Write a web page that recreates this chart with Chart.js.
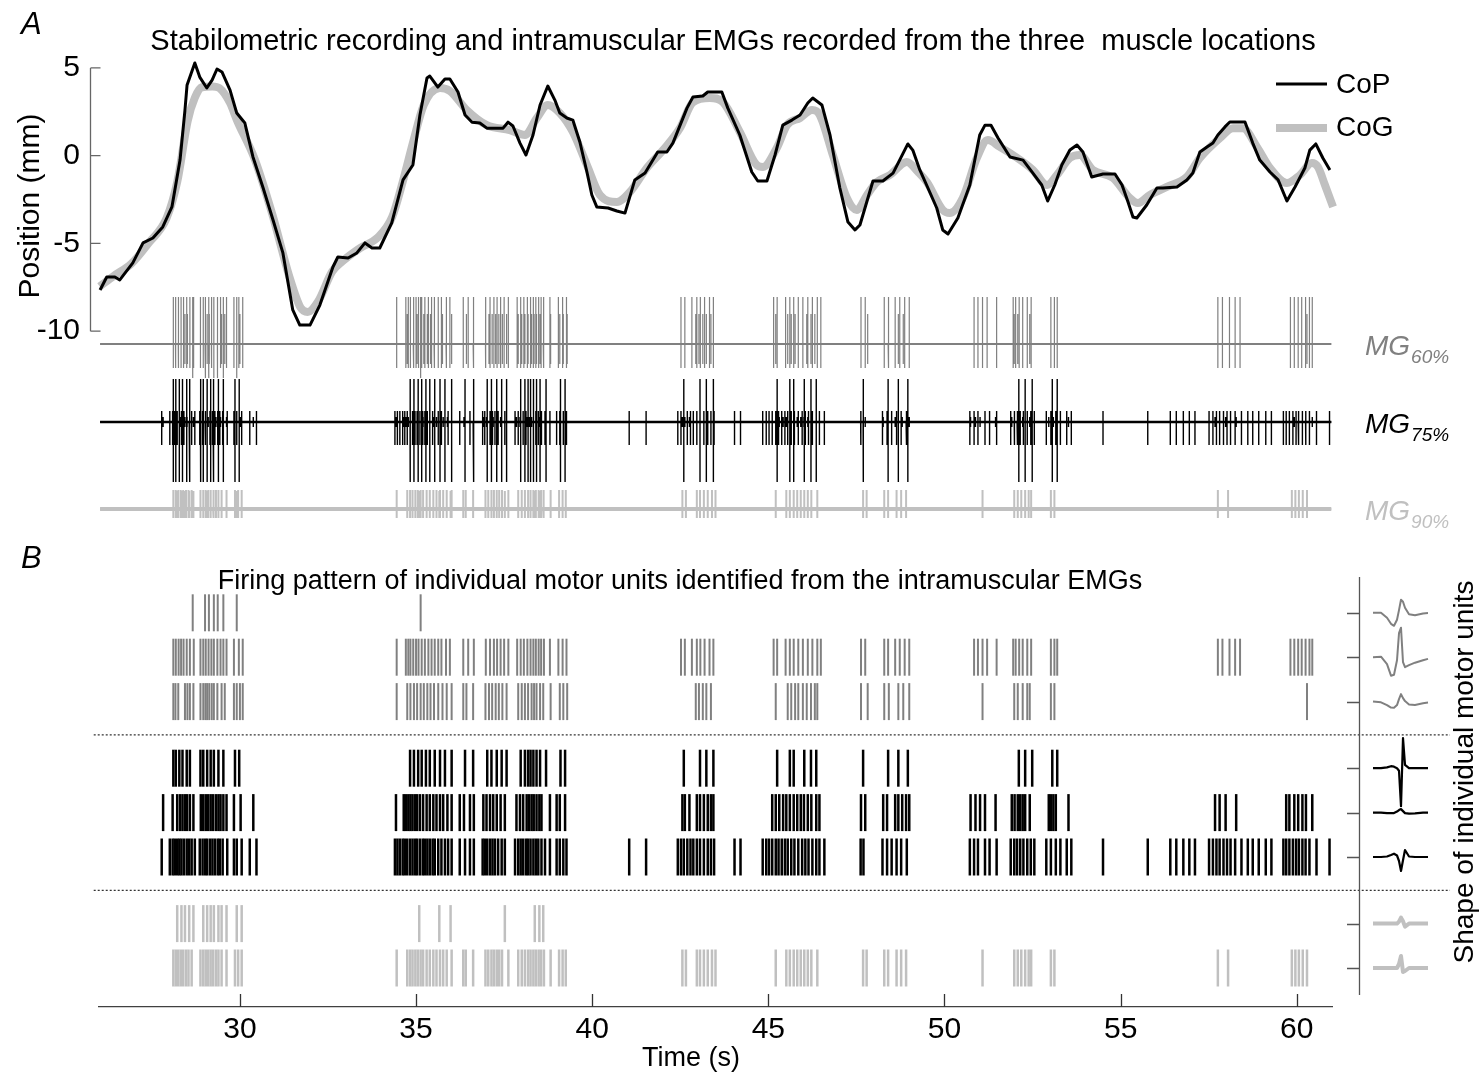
<!DOCTYPE html>
<html>
<head>
<meta charset="utf-8">
<title>Stabilometric recording and motor unit firing</title>
<script src="https://cdn.jsdelivr.net/npm/chart.js@4.4.1/dist/chart.umd.min.js"></script>
<style>
  html, body { margin: 0; padding: 0; background: #fff; }
</style>
</head>
<body>
<canvas id="fig" width="1484" height="1077"></canvas>
<script>
// ---- values ----
const timeTicks = [30, 35, 40, 45, 50, 55, 60];
const posTicks = [-10, -5, 0, 5];

// centre of pressure (mm)
const copTime = [26.03, 26.22, 26.45, 26.59, 26.96, 27.25, 27.53, 27.81, 28.07, 28.30,
  28.44, 28.50, 28.72, 28.86, 29.06, 29.21, 29.35, 29.49, 29.72, 29.91,
  30.14, 30.37, 30.65, 30.94, 31.22, 31.50, 31.70, 31.99, 32.27, 32.64,
  32.78, 33.07, 33.32, 33.55, 33.75, 33.97, 34.31, 34.63, 34.91, 35.11,
  35.31, 35.39, 35.62, 35.82, 35.96, 36.19, 36.39, 36.59, 36.81, 37.01,
  37.47, 37.61, 37.75, 37.95, 38.12, 38.32, 38.52, 38.74, 38.94, 39.08,
  39.28, 39.45, 39.65, 39.85, 39.99, 40.13, 40.45, 40.70, 40.93, 41.21,
  41.50, 41.86, 42.12, 42.29, 42.69, 42.86, 43.14, 43.28, 43.68, 43.85,
  44.19, 44.53, 44.70, 44.96, 45.19, 45.41, 45.67, 45.90, 46.12, 46.26,
  46.52, 46.75, 47.03, 47.26, 47.46, 47.60, 47.97, 48.25, 48.54, 48.96,
  49.10, 49.30, 49.53, 49.78, 49.95, 50.10, 50.38, 50.72, 51.00, 51.15,
  51.32, 51.52, 51.86, 52.23, 52.51, 52.76, 52.93, 53.13, 53.33, 53.56,
  53.76, 53.93, 54.18, 54.50, 54.84, 55.04, 55.21, 55.35, 55.46, 55.74,
  56.03, 56.20, 56.60, 56.88, 57.05, 57.25, 57.45, 57.62, 57.76, 57.96,
  58.10, 58.53, 58.75, 58.95, 59.24, 59.47, 59.72, 59.95, 60.23, 60.37,
  60.54, 60.74, 60.94];
const copPos = [-7.65, -6.91, -6.91, -7.08, -6.11, -4.97, -4.69, -4.06, -2.92, -0.25,
  2.6, 4.03, 5.28, 4.48, 3.86, 4.31, 4.94, 4.77, 3.74, 2.43,
  1.86, -0.07, -1.78, -3.66, -5.54, -8.79, -9.65, -9.65, -8.51, -6.34,
  -5.77, -5.83, -5.54, -4.97, -5.26, -5.26, -3.83, -1.38, -0.53, 2.32,
  4.43, 4.54, 3.91, 4.37, 4.37, 3.63, 2.32, 1.91, 1.86, 1.57,
  1.57, 1.91, 1.69, 0.72, 0.04, 1.18, 2.89, 3.97, 3.17, 2.43,
  2.15, 2.03, 0.78, -0.93, -2.24, -2.92, -2.98, -3.15, -3.27, -1.38,
  -0.99, 0.21, 0.21, 0.72, 2.71, 3.34, 3.4, 3.63, 3.63, 2.71,
  1.18, -0.93, -1.44, -1.44, 0.04, 1.74, 2.03, 2.32, 3.0, 3.29,
  2.89, 1.18, -1.84, -3.78, -4.23, -3.95, -1.44, -1.44, -0.99, 0.67,
  0.32, -0.81, -1.84, -2.98, -4.23, -4.46, -3.55, -1.67, 1.18, 1.74,
  1.74, 1.01, -0.07, -0.25, -0.99, -1.67, -2.58, -1.67, -0.53, 0.32,
  0.61, 0.21, -1.21, -1.04, -1.04, -1.67, -2.64, -3.49, -3.55, -2.81,
  -1.84, -1.84, -1.78, -1.38, -0.99, 0.21, 0.5, 0.72, 1.18, 1.64,
  1.92, 1.92, 0.72, -0.25, -0.93, -1.38, -2.58, -1.78, -0.7, 0.32,
  0.67, -0.13, -0.81];

// centre of gravity (mm)
const cogTime = [26.02, 26.42, 26.92, 27.42, 27.92, 28.22, 28.52, 28.72, 28.92, 29.22,
  29.42, 29.72, 29.92, 30.42, 30.92, 31.42, 31.72, 31.92, 32.22, 32.62,
  32.92, 33.42, 33.92, 34.32, 34.62, 34.92, 35.22, 35.68, 35.96, 36.44,
  37.01, 37.66, 38.09, 38.43, 38.74, 39.08, 39.45, 39.85, 40.22, 40.70,
  41.07, 41.55, 42.01, 42.49, 42.86, 43.34, 43.71, 44.19, 44.67, 44.85,
  45.24, 45.53, 45.90, 46.24, 46.46, 46.83, 47.23, 47.51, 47.80, 48.08,
  48.45, 48.93, 49.25, 49.50, 49.95, 50.15, 50.52, 50.92, 51.23, 51.57,
  51.94, 52.51, 52.91, 53.19, 53.56, 53.84, 54.21, 54.78, 55.26, 55.49,
  55.83, 56.31, 56.88, 57.25, 57.82, 58.19, 58.47, 58.87, 59.24, 59.72,
  60.09, 60.43, 60.60, 60.80, 61.03];
const cogPos = [-7.45, -6.85, -6.15, -4.95, -3.55, -1.5, 2.0, 3.3, 3.9, 3.95,
  3.85, 3.0, 2.0, -0.2, -3.35, -7.0, -8.65, -8.9, -8.3, -6.6,
  -6.0, -5.25, -4.65, -3.5, -1.5, 0.8, 2.9, 3.86, 3.69, 2.6,
  1.74, 1.46, 1.18, 2.15, 2.89, 2.43, 1.35, -0.53, -2.24, -2.64,
  -2.07, -0.7, 0.32, 1.57, 3.05, 3.29, 3.05, 1.35, -0.53, -0.64,
  0.44, 1.74, 2.15, 2.6, 2.32, 0.04, -2.41, -3.09, -2.24, -1.5,
  -1.1, -0.36, -0.93, -1.5, -3.09, -3.27, -2.41, -0.13, 0.89, 0.5,
  0.04, -0.81, -1.67, -1.1, -0.13, 0.04, -0.81, -1.27, -2.41, -2.7,
  -2.24, -1.78, -1.21, -0.13, 1.01, 1.57, 1.57, 0.5, -0.7, -1.56,
  -1.1, -0.42, -0.64, -1.67, -2.92];

// firing times (s) of the 8 motor units, top row first
const mu1Times = [28.66, 29.01, 29.12, 29.26, 29.37, 29.53, 29.91, 35.13];
const mu2Times = [28.11, 28.18, 28.26, 28.33, 28.40, 28.49, 28.58, 28.69, 28.88, 28.96, 29.03, 29.11, 29.19, 29.26, 29.36, 29.45, 29.53, 29.62, 29.83, 29.97, 30.08,
  34.45, 34.71, 34.78, 34.84, 34.92, 35.00, 35.07, 35.16, 35.25, 35.35, 35.44, 35.53, 35.63, 35.72, 35.85, 35.96, 36.34, 36.48, 36.64, 36.98, 37.10, 37.21, 37.30, 37.40, 37.50, 37.62,
  37.87, 37.97, 38.06, 38.16, 38.25, 38.33, 38.40, 38.48, 38.55, 38.63, 38.80, 39.04, 39.16, 39.27,
  42.52, 42.63, 42.83, 42.97, 43.07, 43.19, 43.33, 43.44, 45.15, 45.25, 45.49, 45.61, 45.72, 45.85, 45.98, 46.12, 46.25, 46.39, 46.49, 47.63, 47.75,
  48.29, 48.40, 48.60, 48.73, 48.87, 49.00, 50.84, 50.95, 51.08, 51.21, 51.48, 51.95, 52.02, 52.12, 52.22, 52.35, 52.46, 53.02, 53.12, 53.20,
  57.76, 57.89, 58.09, 58.25, 58.39, 59.82, 59.93, 60.04, 60.14, 60.25, 60.36, 60.44];
const mu3Times = [28.11, 28.17, 28.25, 28.44, 28.51, 28.58, 28.68, 28.88, 28.96, 29.02, 29.07, 29.13, 29.20, 29.26, 29.36, 29.48, 29.57, 29.83, 29.91, 30.00, 30.08,
  34.45, 34.75, 34.84, 34.94, 35.03, 35.13, 35.22, 35.32, 35.41, 35.51, 35.63, 35.75, 35.87, 36.01, 36.34, 36.43, 36.62, 36.97, 37.07, 37.16, 37.26, 37.35, 37.45, 37.57,
  37.90, 38.00, 38.09, 38.18, 38.28, 38.35, 38.42, 38.52, 38.61, 38.82, 39.08, 39.18, 39.29,
  42.94, 43.03, 43.14, 43.24, 43.37, 45.21, 45.55, 45.65, 45.76, 45.85, 45.98, 46.09, 46.21, 46.32, 46.39, 47.63, 47.82,
  48.29, 48.42, 48.69, 48.83, 49.00, 51.08, 51.98, 52.08, 52.22, 52.35, 52.42, 53.02, 53.12, 60.29];
const mu4Times = [28.11, 28.18, 28.28, 28.37, 28.49, 28.58, 28.88, 28.96, 29.07, 29.17, 29.26, 29.39, 29.53, 29.86, 29.98,
  34.83, 34.94, 35.06, 35.16, 35.28, 35.39, 35.53, 35.68, 35.82, 36.01, 36.39, 36.62, 37.02, 37.14, 37.29, 37.43, 37.57,
  37.97, 38.09, 38.18, 38.25, 38.33, 38.42, 38.52, 38.69, 39.10, 39.23,
  42.60, 43.06, 43.24, 43.44, 45.25, 45.61, 45.72, 46.02, 46.21, 46.36, 47.69, 48.40, 48.69, 48.96, 52.11, 52.29, 52.49, 53.06, 53.20];
const mu5Times = [27.82, 28.09, 28.22, 28.30, 28.37, 28.44, 28.50, 28.58, 28.68, 28.89, 28.96, 29.03, 29.10, 29.17, 29.24, 29.32, 29.39, 29.45, 29.53, 29.62, 29.83, 30.02, 30.38,
  34.43, 34.65, 34.71, 34.78, 34.84, 34.90, 34.97, 35.03, 35.11, 35.20, 35.30, 35.39, 35.49, 35.58, 35.68, 35.77, 35.89, 36.01, 36.24, 36.36, 36.53, 36.64,
  36.91, 37.00, 37.10, 37.19, 37.29, 37.40, 37.52, 37.85, 37.95, 38.04, 38.14, 38.21, 38.28, 38.34, 38.42, 38.50, 38.56, 38.80, 38.99, 39.08, 39.23,
  42.56, 42.63, 42.76, 42.97, 43.06, 43.17, 43.28, 43.37, 43.44, 45.11, 45.21, 45.31, 45.42, 45.51, 45.61, 45.72, 45.82, 45.92, 46.01, 46.12, 46.22, 46.36, 46.45,
  47.63, 47.75, 48.26, 48.37, 48.60, 48.69, 48.80, 48.91, 49.00, 50.74, 50.88, 51.01, 51.15, 51.45, 51.91, 51.99, 52.08, 52.15, 52.22, 52.29, 52.42,
  52.96, 53.02, 53.09, 53.16, 53.52, 57.68, 57.81, 57.98, 58.28, 59.70, 59.79, 59.93, 60.04, 60.16, 60.26, 60.44];
const mu6Times = [27.78, 28.01, 28.09, 28.15, 28.22, 28.28, 28.34, 28.41, 28.49, 28.56, 28.63, 28.72, 28.86, 28.94, 29.01, 29.07, 29.15, 29.22, 29.29, 29.37, 29.43, 29.51, 29.64, 29.83, 29.91, 30.05, 30.28, 30.47,
  34.40, 34.47, 34.54, 34.62, 34.68, 34.75, 34.83, 34.90, 34.97, 35.03, 35.11, 35.19, 35.25, 35.32, 35.39, 35.47, 35.53, 35.63, 35.72, 35.82, 35.91, 36.01,
  36.24, 36.39, 36.53, 36.64, 36.89, 36.95, 37.02, 37.10, 37.17, 37.24, 37.33, 37.43, 37.52, 37.81, 37.90, 37.97, 38.04, 38.12, 38.18, 38.25, 38.33, 38.40, 38.47, 38.56, 38.66, 38.80,
  38.99, 39.08, 39.18, 39.27, 41.05, 41.53, 42.43, 42.52, 42.60, 42.70, 42.79, 42.87, 42.97, 43.06, 43.17, 43.28, 43.37, 43.46, 44.04, 44.21,
  44.84, 44.94, 45.02, 45.11, 45.21, 45.29, 45.38, 45.47, 45.55, 45.65, 45.74, 45.85, 45.96, 46.05, 46.14, 46.25, 46.36, 46.45, 46.59, 47.62, 47.70,
  48.24, 48.37, 48.50, 48.64, 48.77, 48.93, 50.72, 50.84, 50.95, 51.15, 51.28, 51.48, 51.88, 51.98, 52.06, 52.15, 52.24, 52.35, 52.45, 52.55,
  52.89, 53.02, 53.16, 53.29, 53.47, 53.60, 54.50, 55.77, 56.41, 56.58, 56.78, 56.95, 57.11, 57.51, 57.62, 57.72, 57.81, 57.92, 58.02, 58.12, 58.25,
  58.43, 58.61, 58.75, 58.92, 59.12, 59.28, 59.62, 59.70, 59.79, 59.89, 59.98, 60.06, 60.16, 60.25, 60.36, 60.56, 60.93];
const mu7Times = [28.22, 28.34, 28.44, 28.56, 28.68, 28.96, 29.07, 29.17, 29.26, 29.39, 29.48, 29.62, 29.91, 30.05, 35.09, 35.66, 35.98, 37.52, 38.37, 38.50, 38.61];
const mu8Times = [28.11, 28.18, 28.25, 28.32, 28.39, 28.47, 28.54, 28.63, 28.88, 28.96, 29.03, 29.10, 29.17, 29.24, 29.32, 29.39, 29.48, 29.62, 29.86, 29.95, 30.05,
  34.45, 34.75, 34.83, 34.90, 34.98, 35.05, 35.13, 35.20, 35.30, 35.39, 35.49, 35.58, 35.68, 35.77, 35.87, 36.01, 36.34, 36.41, 36.62,
  36.97, 37.05, 37.14, 37.21, 37.29, 37.36, 37.44, 37.62, 37.90, 38.00, 38.09, 38.18, 38.25, 38.33, 38.40, 38.48, 38.55, 38.63, 38.82, 39.06, 39.16, 39.25,
  42.56, 42.66, 42.97, 43.06, 43.17, 43.28, 43.40, 43.50, 45.21, 45.51, 45.61, 45.72, 45.82, 45.92, 46.02, 46.12, 46.22, 46.39, 47.69, 47.79,
  48.29, 48.40, 48.64, 48.77, 48.91, 51.08, 51.98, 52.08, 52.18, 52.29, 52.39, 52.46, 53.02, 53.12, 57.76, 58.05, 59.86, 59.96, 60.06, 60.17, 60.29];

// raster row level of each unit, and the two group separators
const unitRows = [8, 7, 6, 4.5, 3.5, 2.5, 1, 0];
const groupBreaks = [5.25, 1.75];

// EMG channels: recording span (s) and spike peaks [up, down] of each unit (mV)
const emgSpan = [26.03, 60.98];
const mg60Peaks = [[0.94, -0.68], [0.94, -0.48], [0.6, -0.4]];
const mg75Peaks = [[0.86, -1.2], [0.1, -0.1], [0.22, -0.46]];
const mg90Peaks = [[0.36, -0.18], [0.38, -0.18]];

// action potential shapes (time in ms, amplitude in mV)
const shapeMs = [0, 1.6, 2.8, 3.6, 4.2, 4.8, 5.2, 5.6, 6.0, 6.4, 7.2, 8.4, 10, 11];
const mu1Shape = [0, 0, -0.5, -1.1, -1.3, -0.7, 0.27, 1.3, 1.1, 0.5, -0.15, -0.25, -0.07, -0.03];
const mu2Shape = [0, 0.05, -0.7, -1.85, -1.75, -0.3, 2.4, 2.95, -0.5, -1.0, -0.8, -0.55, -0.3, -0.17];
const mu3Shape = [0, -0.07, -0.35, -0.6, -0.62, -0.35, 0.25, 0.75, 0.35, 0.05, -0.28, -0.33, -0.17, -0.1];
const mu4Shape = [0, 0, 0.08, 0.2, 0.15, 0, -0.25, -3.8, 3.0, 0.33, 0, 0, 0, 0];
const mu5Shape = [0, 0, -0.05, -0.05, -0.05, 0.1, 0.25, 0.35, 0.15, -0.05, -0.1, -0.07, 0, 0];
const mu6Shape = [0, 0, 0.05, 0.2, 0.33, 0.15, -0.4, -1.4, -0.33, 0.7, 0.05, 0, 0, 0];
const mu7Shape = [0, 0, 0, 0, 0, 0, 0.2, 0.6, 0.23, -0.3, 0, 0, 0, 0];
const mu8Shape = [0, 0, 0, 0, 0, 0, 0.4, 1.2, -0.4, -0.3, 0, 0, 0, 0];

// ---- layout / style ----
const FONT = "'Liberation Sans', Arial, Helvetica, sans-serif";
const PLOT = { left: 99, right: 1332, top: 30, bottom: 1007 };
const GRAY = '#808080', LIGHT = '#c0c0c0';
const unitColors = [GRAY, GRAY, GRAY, '#000', '#000', '#000', LIGHT, LIGHT];
const unitWidths = [2, 2, 2, 2.5, 2.5, 2.5, 2.5, 2.5];
const shapeWidths = [2, 2, 2, 2.2, 2.2, 2.2, 4, 4];
const RASTER_ZERO = 968, RASTER_STEP = 44.4;
const SHAPE_LEFT = 1373, SHAPE_PX_MS = 5, SHAPE_PX_MV = 10;

// where 0 of each hidden y scale sits (px) and how many px one unit takes
const bandSpecs = {
  yPos: [155.7, 17.55],
  yRaster: [RASTER_ZERO, RASTER_STEP],
  yMG60: [344, 50],
  yMG75: [422, 50],
  yMG90: [509, 50]
};
unitRows.forEach((row, i) => { bandSpecs['yShape' + i] = [RASTER_ZERO - RASTER_STEP * row, SHAPE_PX_MV]; });

function band(zeroPx, pxPerUnit, area) {
  return { min: -(area.bottom - zeroPx) / pxPerUnit, max: (zeroPx - area.top) / pxPerUnit };
}

function zip(xs, ys) {
  return xs.map((x, i) => ({ x: x, y: ys[i] }));
}

// EMG trace: each firing drawn as a spike of that unit's amplitude
function emgTrace(unitTimes, peaks) {
  const spikes = [];
  unitTimes.forEach((times, i) => times.forEach(t => spikes.push([t, peaks[i][0], peaks[i][1]])));
  spikes.sort((a, b) => a[0] - b[0]);
  const pts = [{ x: emgSpan[0], y: 0 }];
  spikes.forEach(s => {
    pts.push({ x: s[0], y: 0 }, { x: s[0], y: s[1] }, { x: s[0], y: s[2] }, { x: s[0], y: 0 });
  });
  pts.push({ x: emgSpan[1], y: 0 });
  return pts;
}

const unitTimes = [mu1Times, mu2Times, mu3Times, mu4Times, mu5Times, mu6Times, mu7Times, mu8Times];
const unitShapes = [mu1Shape, mu2Shape, mu3Shape, mu4Shape, mu5Shape, mu6Shape, mu7Shape, mu8Shape];

const datasets = [
  {
    label: 'CoP', data: zip(copTime, copPos), xAxisID: 'x', yAxisID: 'yPos',
    borderColor: '#000', borderWidth: 3, pointRadius: 0, order: 1, clip: false,
    borderJoinStyle: 'round'
  },
  {
    label: 'CoG', data: zip(cogTime, cogPos), xAxisID: 'x', yAxisID: 'yPos',
    borderColor: LIGHT, borderWidth: 8, pointRadius: 0, order: 2, clip: false,
    tension: 0.4, cubicInterpolationMode: 'monotone', borderCapStyle: 'butt', borderJoinStyle: 'round'
  }
];

// EMG channels: a baseline plus the spike trace
[
  ['MG60', [mu1Times, mu2Times, mu3Times], mg60Peaks, GRAY, 2, 1.2],
  ['MG75', [mu4Times, mu5Times, mu6Times], mg75Peaks, '#000', 2.4, 1.4],
  ['MG90', [mu7Times, mu8Times], mg90Peaks, LIGHT, 4, 2]
].forEach(ch => {
  datasets.push({
    label: ch[0] + ' baseline', data: emgSpan.map(t => ({ x: t, y: 0 })), xAxisID: 'x', yAxisID: 'y' + ch[0],
    borderColor: ch[3], borderWidth: ch[4], pointRadius: 0, order: 5
  });
  datasets.push({
    label: ch[0], data: emgTrace(ch[1], ch[2]), xAxisID: 'x', yAxisID: 'y' + ch[0],
    borderColor: ch[3], borderWidth: ch[5], pointRadius: 0, order: 5
  });
});

unitTimes.forEach((times, i) => {
  datasets.push({
    type: 'scatter', label: 'MU' + (i + 1),
    data: times.map(t => ({ x: t, y: unitRows[i] })),
    xAxisID: 'x', yAxisID: 'yRaster', showLine: false,
    pointStyle: 'line', pointRotation: 90, pointRadius: 18.5, pointHoverRadius: 18.5,
    borderColor: unitColors[i], pointBorderColor: unitColors[i],
    borderWidth: unitWidths[i], pointBorderWidth: unitWidths[i], order: 4
  });
  datasets.push({
    label: 'MU' + (i + 1) + ' shape', data: zip(shapeMs, unitShapes[i]),
    xAxisID: 'xShape', yAxisID: 'yShape' + i,
    borderColor: unitColors[i], borderWidth: shapeWidths[i], pointRadius: 0,
    clip: false, order: 3, borderJoinStyle: 'round'
  });
});

groupBreaks.forEach(level => {
  datasets.push({
    label: 'separator', data: [{ x: 25.85, y: level }, { x: 64.35, y: level }],
    xAxisID: 'x', yAxisID: 'yRaster', borderColor: '#000', borderWidth: 1,
    borderDash: [2, 2], pointRadius: 0, clip: false, order: 6
  });
});

const hidden = { type: 'linear', display: false, bounds: 'data' };
const scales = {
  x: {
    type: 'linear', position: 'bottom', min: 26, max: 61, bounds: 'data',
    afterBuildTicks: s => { s.ticks = timeTicks.map(v => ({ value: v })); },
    afterFit: s => { s.height = 1077 - PLOT.bottom; s.paddingLeft = 0; s.paddingRight = 0; },
    grid: { display: false, drawTicks: false },
    border: { display: true, color: '#404040', width: 1.3 },
    ticks: { color: '#000', font: { family: FONT, size: 30 }, padding: 5, maxRotation: 0, autoSkip: false }
  },
  xShape: Object.assign({}, hidden, {
    afterDataLimits: s => {
      const a = s.chart.chartArea && s.chart.chartArea.right ? s.chart.chartArea : PLOT;
      s.min = (a.left - SHAPE_LEFT) / SHAPE_PX_MS;
      s.max = (a.right - SHAPE_LEFT) / SHAPE_PX_MS;
    }
  }),
  yPos: {
    type: 'linear', position: 'left', bounds: 'data',
    afterBuildTicks: s => { s.ticks = posTicks.map(v => ({ value: v })); },
    afterFit: s => { s.width = PLOT.left; s.paddingTop = 0; s.paddingBottom = 0; },
    grid: { display: false, drawTicks: false },
    border: { display: false },
    ticks: { color: '#000', font: { family: FONT, size: 30 }, padding: 19, autoSkip: false }
  }
};
Object.keys(bandSpecs).forEach(id => {
  if (!scales[id]) scales[id] = Object.assign({}, hidden);
  Object.assign(scales[id], band(bandSpecs[id][0], bandSpecs[id][1], PLOT));
});

function label(ctx, str, x, y, font, color, align, baseline) {
  ctx.font = font;
  ctx.fillStyle = color;
  ctx.textAlign = align || 'left';
  ctx.textBaseline = baseline || 'alphabetic';
  ctx.fillText(str, x, y);
}

function mgLabel(ctx, pct, zeroPx, color) {
  ctx.font = 'italic 28px ' + FONT;
  const w = ctx.measureText('MG').width;
  label(ctx, 'MG', 1365, zeroPx + 11, 'italic 28px ' + FONT, color);
  label(ctx, pct, 1366 + w, zeroPx + 19, 'italic 19px ' + FONT, color);
}

const figureDecor = {
  id: 'figureDecor',
  beforeDraw(chart) {
    const ctx = chart.ctx;
    ctx.save();
    ctx.fillStyle = '#fff';
    ctx.fillRect(0, 0, chart.width, chart.height);
    ctx.restore();
  },
  afterDraw(chart) {
    const ctx = chart.ctx;
    const xs = chart.scales.x, yp = chart.scales.yPos, yr = chart.scales.yRaster;
    ctx.save();

    // time axis ticks point inwards
    ctx.strokeStyle = '#333';
    ctx.lineWidth = 1.3;
    ctx.beginPath();
    xs.ticks.forEach(t => {
      const px = Math.round(xs.getPixelForValue(t.value)) + 0.5;
      ctx.moveTo(px, xs.top);
      ctx.lineTo(px, xs.top - 13);
    });
    ctx.stroke();

    // position axis (only spans its own range)
    ctx.strokeStyle = '#666';
    ctx.beginPath();
    ctx.moveTo(90.5, yp.getPixelForValue(posTicks[posTicks.length - 1]));
    ctx.lineTo(90.5, yp.getPixelForValue(posTicks[0]));
    posTicks.forEach(v => {
      const py = yp.getPixelForValue(v);
      ctx.moveTo(90.5, py);
      ctx.lineTo(100.5, py);
    });
    ctx.stroke();

    // axis for the motor unit shapes
    ctx.strokeStyle = '#555';
    ctx.beginPath();
    ctx.moveTo(1359.5, 577);
    ctx.lineTo(1359.5, 995);
    unitRows.forEach(r => {
      const py = Math.round(yr.getPixelForValue(r)) + 0.5;
      ctx.moveTo(1359.5, py);
      ctx.lineTo(1347, py);
    });
    ctx.stroke();

    // legend
    ctx.strokeStyle = '#000';
    ctx.lineWidth = 3;
    ctx.beginPath(); ctx.moveTo(1276, 84); ctx.lineTo(1327, 84); ctx.stroke();
    ctx.strokeStyle = LIGHT;
    ctx.lineWidth = 8;
    ctx.beginPath(); ctx.moveTo(1276, 128); ctx.lineTo(1327, 128); ctx.stroke();
    label(ctx, 'CoP', 1336, 85, '28px ' + FONT, '#000', 'left', 'middle');
    label(ctx, 'CoG', 1336, 128, '28px ' + FONT, '#000', 'left', 'middle');

    // panel letters and titles
    label(ctx, 'A', 21, 34, 'italic 31px ' + FONT, '#000');
    label(ctx, 'B', 21, 568, 'italic 31px ' + FONT, '#000');
    label(ctx, 'Stabilometric recording and intramuscular EMGs recorded from the three  muscle locations',
      733, 50, '29px ' + FONT, '#000', 'center');
    label(ctx, 'Firing pattern of individual motor units identified from the intramuscular EMGs',
      680, 589, '27px ' + FONT, '#000', 'center');
    label(ctx, 'Time (s)', 691, 1066, '27px ' + FONT, '#000', 'center');

    // EMG channel names
    mgLabel(ctx, '60%', chart.scales.yMG60.getPixelForValue(0), GRAY);
    mgLabel(ctx, '75%', chart.scales.yMG75.getPixelForValue(0), '#000');
    mgLabel(ctx, '90%', chart.scales.yMG90.getPixelForValue(0), LIGHT);

    // rotated axis titles
    ctx.save();
    ctx.translate(31, 206);
    ctx.rotate(-Math.PI / 2);
    label(ctx, 'Position (mm)', 0, 0, '30px ' + FONT, '#000', 'center', 'middle');
    ctx.restore();
    ctx.save();
    ctx.translate(1465, 772);
    ctx.rotate(-Math.PI / 2);
    label(ctx, 'Shape of individual motor units', 0, 0, '28px ' + FONT, '#000', 'center', 'middle');
    ctx.restore();

    ctx.restore();
  }
};

Chart.defaults.font.family = FONT;
Chart.defaults.color = '#000';

const chart = new Chart(document.getElementById('fig').getContext('2d'), {
  type: 'line',
  data: { datasets: datasets },
  options: {
    responsive: false,
    animation: false,
    devicePixelRatio: 1,
    events: [],
    layout: { padding: { top: PLOT.top, right: 1484 - PLOT.right, bottom: 0, left: 0 } },
    plugins: { legend: { display: false }, tooltip: { enabled: false } },
    scales: scales
  },
  plugins: [figureDecor]
});

// if the library laid the plot area out differently, re-fit the hidden scales to it
const area = chart.chartArea;
if (Math.abs(area.top - PLOT.top) > 0.5 || Math.abs(area.bottom - PLOT.bottom) > 0.5) {
  Object.keys(bandSpecs).forEach(id => {
    Object.assign(chart.options.scales[id], band(bandSpecs[id][0], bandSpecs[id][1], area));
  });
  chart.update();
}
</script>
</body>
</html>
